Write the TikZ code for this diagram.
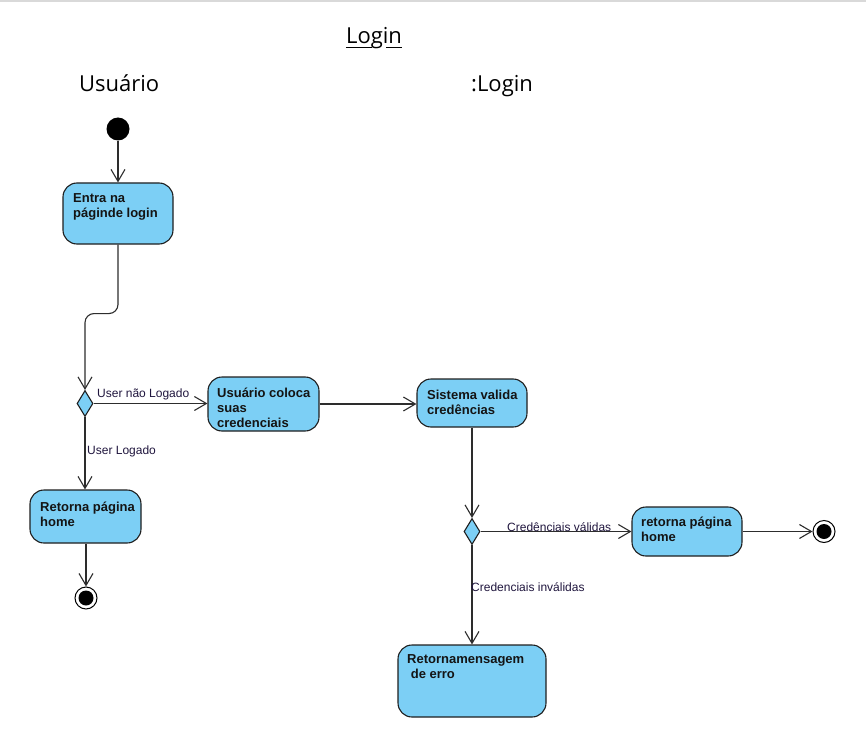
\documentclass[tikz,border=0pt]{standalone}
\usepackage{fontspec}
\setmainfont{Liberation Sans}
\newfontfamily\titlefont{Open Sans}
\usetikzlibrary{arrows.meta,shapes.geometric}
\definecolor{actfill}{RGB}{124,207,245}
\definecolor{labelink}{RGB}{32,22,62}
\definecolor{wire}{RGB}{45,45,45}
\begin{document}
\begin{tikzpicture}[x=1pt,y=-1pt,
  act/.style={draw=black!88, line width=1.1pt, fill=actfill, rounded corners=14pt, inner sep=0pt},
  % text block anchored at the baseline of its last line
  acttext/.style={font=\bfseries\fontsize{13}{15}\selectfont, align=left, anchor=base west, inner sep=0pt, text=black!92},
  decision/.style={diamond, draw=black!88, line width=1.1pt, fill=actfill, inner sep=0pt, minimum width=16pt, minimum height=26pt},
  startnode/.style={circle, fill=black, minimum size=23pt, inner sep=0pt},
  endnode/.style={circle, draw=black, fill=white, line width=1pt, minimum size=22pt, inner sep=0pt,
    path picture={\fill[black] (path picture bounding box.center) circle (7.5pt);}},
  flow/.style={draw=wire, line width=1.1pt, -{Straight Barb[length=12pt,width=14pt,line width=1.1pt]}},
  guard/.style={font=\fontsize{12}{14}\selectfont, text=labelink, anchor=base west, inner sep=0pt},
  lane/.style={font=\titlefont\fontsize{22}{26}\selectfont, inner sep=0pt}
]
\useasboundingbox (0,0) rectangle (866,735);
\fill[white] (0,0) rectangle (866,735);
\draw[black!15, line width=2pt] (0,1) -- (866,1);

% diagram title and swimlane headers
\node[lane, anchor=base] (title) at (374,44) {Login};
\draw[black, line width=1.2pt] ([yshift=-3.5pt]title.base west) -- ([yshift=-3.5pt]title.base west -| 372,0);
\draw[black, line width=1.2pt] ([yshift=-3.5pt]title.base east -| 386,0) -- ([yshift=-3.5pt]title.base east);
\node[lane, anchor=base west] (laneUser) at (79,92) {Usuário};
\node[lane, anchor=base west] (laneLogin) at (471,92) {:Login};

% activity nodes
\node[startnode] (start) at (118,129) {};
\node[act, minimum width=110pt, minimum height=61pt] (entra) at (118,213.5) {};
\node[acttext] (entraT) at (73,218) {Entra na\\páginde login};

\node[decision] (dec1) at (85,403.5) {};

\node[act, minimum width=111pt, minimum height=54pt] (usr) at (263.5,404) {};
\node[acttext] (usrT) at (217,427) {Usuário coloca\\suas\\credenciais};

\node[act, minimum width=111pt, minimum height=53pt] (ret) at (85.5,516.5) {};
\node[acttext] (retT) at (40,526) {Retorna página\\home};

\node[endnode] (end1) at (86,598) {};

\node[act, minimum width=110pt, minimum height=48pt] (sys) at (472,403) {};
\node[acttext] (sysT) at (427,414) {Sistema valida\\credências};

\node[decision] (dec2) at (472,531.5) {};

\node[act, minimum width=110pt, minimum height=49pt] (home2) at (687,531.5) {};
\node[acttext] (home2T) at (641,541) {retorna página\\home};

\node[endnode] (end2) at (824,531.5) {};

\node[act, minimum width=148pt, minimum height=72pt] (err) at (472,681) {};
\node[acttext] (errT) at (407,678) {Retornamensagem\\\hspace*{3.6pt}de erro};

% transitions
\draw[flow] (start) -- (entra);
\draw[flow, rounded corners=9pt] (entra.south) -- ++(0,69) -| (dec1.north);
\draw[flow] (dec1.east) -- (dec1.east -| usr.west);
\draw[flow] (dec1.south) -- (dec1.south |- ret.north);
\draw[flow] (ret.south -| end1) -- (end1.north);
\draw[flow] (usr.east) -- (usr.east -| sys.west);
\draw[flow] (sys.south) -- (dec2.north);
\draw[flow] (dec2.east) -- (dec2.east -| home2.west);
\draw[flow] (home2.east) -- (end2.west);
\draw[flow] (dec2.south) -- (dec2.south |- err.north);

% guard labels
\node[guard] (gNotLogged) at (97,397) {User não Logado};
\node[guard] (gLogged) at (87,454) {User Logado};
\node[guard] (gValid) at (507,531) {Credênciais válidas};
\node[guard] (gInvalid) at (471,591) {Credenciais inválidas};
\end{tikzpicture}
\end{document}
